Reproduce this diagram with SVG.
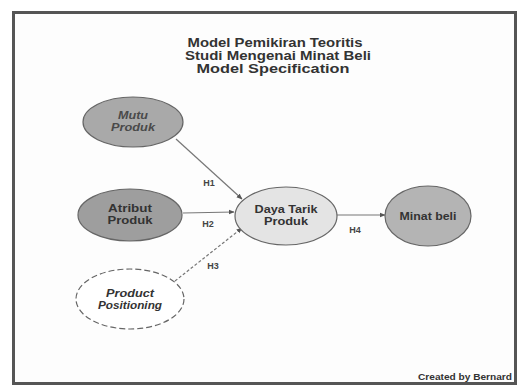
<svg xmlns="http://www.w3.org/2000/svg" width="522" height="390" viewBox="0 0 522 390">
<defs>
<marker id="ah" viewBox="0 0 10 10" refX="9" refY="5" markerWidth="5" markerHeight="5" orient="auto"><path d="M0,1 L10,5 L0,9 z" fill="#555"/></marker>
<style>
.t{font-family:"Liberation Sans",Arial,sans-serif;font-weight:bold;fill:#333;text-anchor:middle}
.n{font-size:11px}
.lbl{font-family:"Liberation Sans",Arial,sans-serif;font-weight:bold;font-size:9px;fill:#444;text-anchor:middle}
.e{stroke:#666;stroke-width:1.2}
.c{stroke:#777;stroke-width:1.2;fill:none;marker-end:url(#ah)}
</style>
</defs>
<rect width="522" height="390" fill="#fff"/>
<rect x="13.5" y="12.5" width="502" height="371" fill="#fdfdfd" stroke="#555" stroke-width="3"/>
<g id="title">
<text class="t" x="275" y="47" font-size="12" textLength="175" lengthAdjust="spacingAndGlyphs">Model Pemikiran Teoritis</text>
<text class="t" x="278" y="60" font-size="12" textLength="186" lengthAdjust="spacingAndGlyphs">Studi Mengenai Minat Beli</text>
<text class="t" x="273" y="73" font-size="12" textLength="153" lengthAdjust="spacingAndGlyphs">Model Specification</text>
</g>
<g id="connectors">
<line class="c" x1="176" y1="139" x2="242" y2="199"/>
<line class="c" x1="183" y1="213" x2="234" y2="212"/>
<line class="c" x1="175" y1="281" x2="242" y2="228" stroke-dasharray="3,2"/>
<line class="c" x1="337" y1="215" x2="385" y2="215"/>
<text class="lbl" x="209" y="186">H1</text>
<text class="lbl" x="208" y="227">H2</text>
<text class="lbl" x="213" y="269">H3</text>
<text class="lbl" x="355" y="233">H4</text>
</g>
<g id="mutu">
<ellipse class="e" cx="133" cy="122" rx="50" ry="25" fill="#a9a9a9"/>
<text class="t n" x="133" y="119" textLength="30" lengthAdjust="spacingAndGlyphs" style="fill:#4a4a4a;font-style:italic">Mutu</text>
<text class="t n" x="133" y="131" textLength="44" lengthAdjust="spacingAndGlyphs" style="fill:#4a4a4a;font-style:italic">Produk</text>
</g>
<g id="atribut">
<ellipse class="e" cx="130" cy="215" rx="52" ry="26" fill="#9e9e9e"/>
<text class="t n" x="130" y="212" textLength="44" lengthAdjust="spacingAndGlyphs">Atribut</text>
<text class="t n" x="130" y="224" textLength="45" lengthAdjust="spacingAndGlyphs">Produk</text>
</g>
<g id="positioning">
<ellipse class="e" cx="130" cy="299" rx="54" ry="30" fill="#fff" stroke-dasharray="6,3"/>
<text class="t n" x="130" y="297" textLength="48" lengthAdjust="spacingAndGlyphs" style="font-style:italic">Product</text>
<text class="t n" x="130" y="309" textLength="64" lengthAdjust="spacingAndGlyphs" style="font-style:italic">Positioning</text>
</g>
<g id="daya">
<ellipse class="e" cx="286" cy="216" rx="51" ry="29" fill="#e4e4e4"/>
<text class="t n" x="286" y="213" textLength="63" lengthAdjust="spacingAndGlyphs">Daya Tarik</text>
<text class="t n" x="286" y="225" textLength="44" lengthAdjust="spacingAndGlyphs">Produk</text>
</g>
<g id="minat">
<ellipse class="e" cx="428" cy="216" rx="43" ry="30" fill="#b4b4b4"/>
<text class="t n" x="428" y="220" textLength="57" lengthAdjust="spacingAndGlyphs">Minat beli</text>
</g>
<g id="credit">
<text class="t" x="512" y="380" font-size="8.5" textLength="94" lengthAdjust="spacingAndGlyphs" style="text-anchor:end">Created by Bernard</text>
</g>
</svg>
